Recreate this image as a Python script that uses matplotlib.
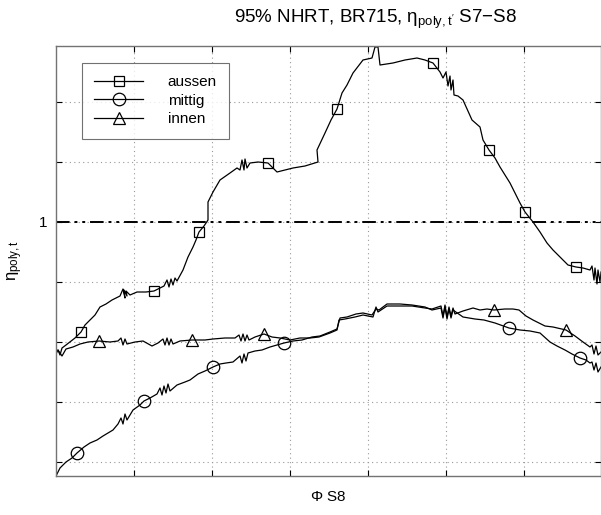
import matplotlib
matplotlib.use("Agg")
import matplotlib.pyplot as plt
from matplotlib.ticker import FixedLocator, FixedFormatter

plt.rcParams['font.family'] = ['Liberation Sans', 'DejaVu Sans']
plt.rcParams['mathtext.fontset'] = 'custom'
plt.rcParams['mathtext.rm'] = 'Liberation Sans'
plt.rcParams['mathtext.it'] = 'Liberation Sans'

# --- data ---
aussen_x = [0.300, 0.302, 0.304, 0.306, 0.310, 0.319, 0.325, 0.329, 0.334, 0.339, 0.344, 0.350, 0.356, 0.364,
            0.367, 0.369, 0.368, 0.371, 0.370, 0.374, 0.381, 0.390, 0.398, 0.404,
            0.408, 0.411, 0.413, 0.415, 0.417, 0.419, 0.421, 0.427, 0.432, 0.437, 0.440, 0.443, 0.448,
            0.452, 0.452, 0.457, 0.464, 0.474, 0.481, 0.484, 0.486, 0.488, 0.489, 0.491, 0.494, 0.502,
            0.512, 0.521, 0.529, 0.537, 0.549, 0.562, 0.561, 0.569, 0.575, 0.581, 0.586, 0.591, 0.597,
            0.607, 0.616, 0.619, 0.622, 0.624, 0.637, 0.649, 0.661, 0.669, 0.677, 0.684,
            0.687, 0.690, 0.692, 0.694, 0.695, 0.697, 0.698, 0.702, 0.707, 0.716, 0.724, 0.727, 0.733,
            0.739, 0.744, 0.754, 0.764, 0.769, 0.777, 0.784, 0.791, 0.797, 0.804, 0.812, 0.820, 0.827,
            0.834, 0.836, 0.838, 0.839, 0.841, 0.842, 0.844, 0.845]
aussen_y = [0.870, 0.872, 0.867, 0.874, 0.877, 0.884, 0.890, 0.897, 0.902, 0.907, 0.915, 0.918, 0.922, 0.926,
            0.933, 0.924, 0.932, 0.926, 0.931, 0.927, 0.930, 0.930, 0.931, 0.934,
            0.936, 0.942, 0.935, 0.943, 0.937, 0.944, 0.941, 0.952, 0.965, 0.975, 0.982, 0.990, 0.996,
            1.002, 1.020, 1.030, 1.042, 1.049, 1.054, 1.052, 1.062, 1.052, 1.063, 1.054, 1.059, 1.060,
            1.059, 1.050, 1.052, 1.054, 1.056, 1.060, 1.072, 1.089, 1.102, 1.113, 1.129, 1.137, 1.149,
            1.162, 1.164, 1.175, 1.175, 1.157, 1.159, 1.162, 1.164, 1.162, 1.159, 1.150,
            1.144, 1.150, 1.136, 1.146, 1.132, 1.142, 1.127, 1.126, 1.122, 1.102, 1.095, 1.082, 1.072,
            1.064, 1.055, 1.039, 1.019, 1.010, 1.000, 0.990, 0.979, 0.972, 0.965, 0.957, 0.955, 0.954,
            0.952, 0.956, 0.942, 0.954, 0.938, 0.952, 0.940, 0.950]
aussen_marks = [0.325, 0.398, 0.443, 0.512, 0.581, 0.677, 0.733, 0.769, 0.820]

mittig_x = [0.300, 0.302, 0.304, 0.310, 0.316, 0.321, 0.328, 0.334, 0.341, 0.347, 0.352, 0.357, 0.362,
            0.365, 0.367, 0.369, 0.371, 0.377, 0.384, 0.388, 0.394, 0.401,
            0.404, 0.406, 0.408, 0.410, 0.412, 0.414, 0.421, 0.429, 0.434, 0.442, 0.449, 0.457, 0.464,
            0.470, 0.477, 0.484, 0.486, 0.488, 0.490, 0.492, 0.499, 0.506, 0.514, 0.521, 0.528, 0.537,
            0.546, 0.556, 0.564, 0.574, 0.581, 0.584, 0.591, 0.600, 0.607, 0.616, 0.620, 0.623, 0.631,
            0.644, 0.656, 0.669, 0.676, 0.685, 0.687, 0.689, 0.691, 0.693, 0.695, 0.697, 0.707, 0.719,
            0.728, 0.739, 0.753, 0.764, 0.774, 0.784, 0.794, 0.801, 0.809, 0.816, 0.824, 0.830, 0.834,
            0.836, 0.838, 0.840, 0.842, 0.845]
mittig_y = [0.746, 0.750, 0.754, 0.760, 0.764, 0.769, 0.775, 0.779, 0.782, 0.786, 0.789, 0.792, 0.798,
            0.804, 0.798, 0.808, 0.802, 0.812, 0.817, 0.821, 0.824, 0.828,
            0.834, 0.827, 0.836, 0.829, 0.838, 0.831, 0.837, 0.840, 0.842, 0.848, 0.851, 0.855, 0.858,
            0.859, 0.860, 0.866, 0.859, 0.868, 0.861, 0.869, 0.871, 0.872, 0.875, 0.877, 0.879, 0.881,
            0.882, 0.885, 0.886, 0.890, 0.893, 0.904, 0.905, 0.908, 0.909, 0.907, 0.913, 0.912, 0.918,
            0.918, 0.917, 0.915, 0.912, 0.914, 0.904, 0.915, 0.903, 0.913, 0.904, 0.912, 0.905, 0.903,
            0.902, 0.899, 0.894, 0.892, 0.891, 0.889, 0.880, 0.876, 0.872, 0.868, 0.864, 0.862, 0.859,
            0.860, 0.852, 0.859, 0.850, 0.855]
mittig_marks = [0.321, 0.388, 0.457, 0.528, 0.753, 0.824]

innen_x = [0.300, 0.302, 0.306, 0.310, 0.317, 0.324, 0.332, 0.343, 0.354, 0.362,
           0.365, 0.367, 0.369, 0.371, 0.379, 0.387, 0.396, 0.402,
           0.407, 0.409, 0.411, 0.413, 0.415, 0.417, 0.424, 0.436, 0.449, 0.457, 0.469, 0.479,
           0.483, 0.485, 0.487, 0.489, 0.491, 0.493, 0.499, 0.508, 0.516, 0.524, 0.534, 0.544,
           0.554, 0.563, 0.574, 0.581, 0.583, 0.589, 0.599, 0.607, 0.617, 0.620, 0.622, 0.631,
           0.644, 0.656, 0.669, 0.676, 0.685, 0.687, 0.689, 0.691, 0.693, 0.695, 0.697, 0.699,
           0.707, 0.717, 0.724, 0.731, 0.738, 0.749, 0.757, 0.763, 0.770, 0.777, 0.789, 0.797,
           0.810, 0.819, 0.827, 0.834, 0.836, 0.838, 0.840, 0.842, 0.845]
innen_y = [0.868, 0.872, 0.866, 0.873, 0.875, 0.878, 0.880, 0.881, 0.880, 0.881,
           0.884, 0.877, 0.883, 0.878, 0.880, 0.881, 0.876, 0.879,
           0.883, 0.877, 0.884, 0.877, 0.883, 0.878, 0.881, 0.882, 0.882, 0.883, 0.884, 0.884,
           0.887, 0.881, 0.888, 0.881, 0.887, 0.882, 0.885, 0.888, 0.885, 0.884, 0.882, 0.884,
           0.884, 0.885, 0.889, 0.892, 0.902, 0.903, 0.905, 0.907, 0.905, 0.915, 0.910, 0.916,
           0.916, 0.916, 0.914, 0.913, 0.916, 0.906, 0.917, 0.905, 0.915, 0.906, 0.914, 0.908,
           0.911, 0.914, 0.912, 0.913, 0.912, 0.913, 0.913, 0.912, 0.906, 0.902, 0.896, 0.895,
           0.892, 0.886, 0.880, 0.875, 0.877, 0.868, 0.876, 0.867, 0.870]
innen_marks = [0.343, 0.436, 0.508, 0.738, 0.810]

x_ticks = [0.378, 0.456, 0.534, 0.612, 0.690, 0.768]
y_ticks = [0.760, 0.820, 0.880, 0.940, 1.000, 1.060, 1.120]
y_labels = ['', '', '', '', '1', '', '']

fig = plt.figure(figsize=(6.01, 5.15), dpi=100)
ax = fig.add_axes([56 / 601, 39 / 515, 545 / 601, 430 / 515])

series = [
    (aussen_x, aussen_y, aussen_marks, 's', 7, 'aussen'),
    (mittig_x, mittig_y, mittig_marks, 'o', 9, 'mittig'),
    (innen_x, innen_y, innen_marks, '^', 8, 'innen'),
]
for xs, ys, marks, m, ms, lab in series:
    idx = [xs.index(v) for v in marks]
    ax.plot(xs, ys, color='black', lw=0.9, marker=m, markevery=idx,
            ms=ms, mfc='none', mec='black', mew=0.9, label=lab)

# eta = 1 reference line
ax.axhline(1.0, color='black', lw=1.4, dashes=(7, 2.5, 1.5, 2.5, 1.5, 2.5))

ax.set_xlim(0.300, 0.845)
ax.set_ylim(0.746, 1.176)
ax.xaxis.set_major_locator(FixedLocator(x_ticks))
ax.xaxis.set_major_formatter(FixedFormatter([''] * len(x_ticks)))
ax.yaxis.set_major_locator(FixedLocator(y_ticks))
ax.yaxis.set_major_formatter(FixedFormatter(y_labels))
ax.tick_params(direction='in', length=4, width=0.8, top=True, right=True, labelsize=11, pad=6)
ax.grid(True, color='0.6', lw=0.8, linestyle=(0, (1, 3)))
for s in ax.spines.values():
    s.set_color('0.45')
    s.set_linewidth(1.0)

ax.set_xlabel(r'$\Phi$ S8', fontsize=11, labelpad=4)
ax.set_ylabel(r'$\eta_{\mathrm{poly,t}}$', fontsize=12, labelpad=10)
fig.text(375 / 601, 1 - 19 / 515, r"95% NHRT, BR715, $\eta_{\mathrm{poly,t'}}$ S7$-$S8",
         ha='center', va='center', fontsize=13.5)

leg = ax.legend(loc='upper left', bbox_to_anchor=(26 / 545, 1 - 17 / 430), fontsize=11,
                frameon=True, fancybox=False, edgecolor='0.3', handlelength=3.2,
                handletextpad=1.6, labelspacing=0.3, borderpad=0.8, borderaxespad=0)
leg.get_frame().set_linewidth(0.8)

fig.savefig('out.png', dpi=100)
